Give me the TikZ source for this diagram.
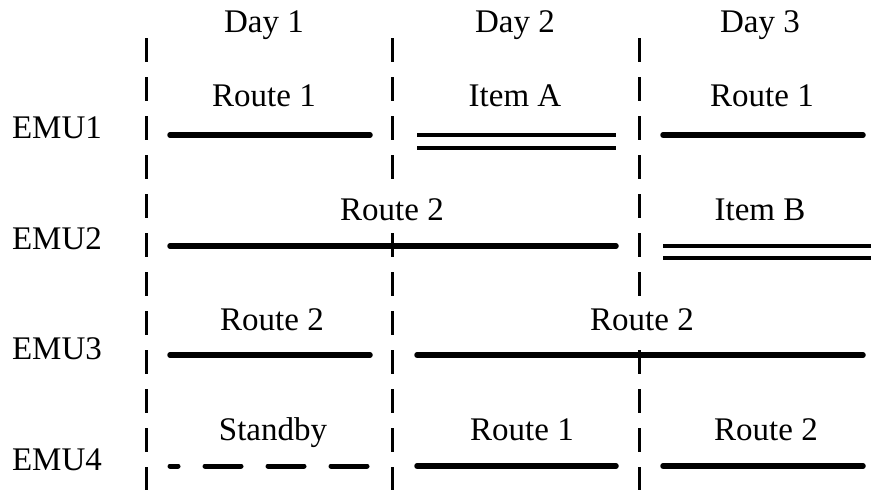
\documentclass[tikz,border=0pt]{standalone}
\usepackage{fontspec}
\setmainfont{Liberation Serif}
\begin{document}
\begin{tikzpicture}[x=1pt,y=-1pt,
  lbl/.style={font=\fontsize{33}{38}\selectfont, anchor=base, inner sep=1pt},
  cover/.style={lbl, fill=white, inner xsep=2pt, inner ysep=10pt},
  divider/.style={line width=3pt, dash pattern=on 24pt off 15pt},
  task/.style={line width=5.5pt, line cap=round},
  maint/.style={line width=3.5pt},
  standbyline/.style={line width=5pt, line cap=round, dash pattern=on 36pt off 27pt, dash phase=28pt}]
\useasboundingbox (0,0) rectangle (880,490);
% day labels
\node[lbl] (d1) at (264,32) {Day 1};
\node[lbl] (d2) at (515,32) {Day 2};
\node[lbl] (d3) at (760,32) {Day 3};
% dividers
\draw[divider] (146,38) -- (146,490);
\draw[divider] (392,38) -- (392,490);
\draw[divider] (639,38) -- (639,490);
% EMU labels
\node[lbl] (e1) at (57,138) {EMU1};
\node[lbl] (e2) at (57,249) {EMU2};
\node[lbl] (e3) at (57,359) {EMU3};
\node[lbl] (e4) at (57,470) {EMU4};
% row 1
\node[lbl] (r11) at (264,106) {Route 1};
\draw[task] (170,135) -- (370,135);
\node[lbl] (r12) at (515,106) {Item A};
\draw[maint] (417,135) -- (616,135);
\draw[maint] (417,148) -- (616,148);
\node[lbl] (r13) at (762,106) {Route 1};
\draw[task] (663,135) -- (863,135);
% row 2
\node[cover] (r21) at (392,220) {Route 2};
\draw[task] (170,246) -- (616,246);
\node[lbl] (r23) at (760,220) {Item B};
\draw[maint] (663,246) -- (871,246);
\draw[maint] (663,258) -- (871,258);
% row 3
\node[lbl] (r31) at (272,330) {Route 2};
\draw[task] (170,355) -- (370,355);
\node[cover] (r32) at (642,330) {Route 2};
\draw[task] (417,355) -- (863,355);
% row 4
\node[lbl] (r41) at (273,440) {Standby};
\draw[standbyline] (170,466) -- (370,466);
\node[lbl] (r42) at (522,440) {Route 1};
\draw[task] (417,466) -- (616,466);
\node[lbl] (r43) at (766,440) {Route 2};
\draw[task] (663,466) -- (863,466);
\end{tikzpicture}
\end{document}
